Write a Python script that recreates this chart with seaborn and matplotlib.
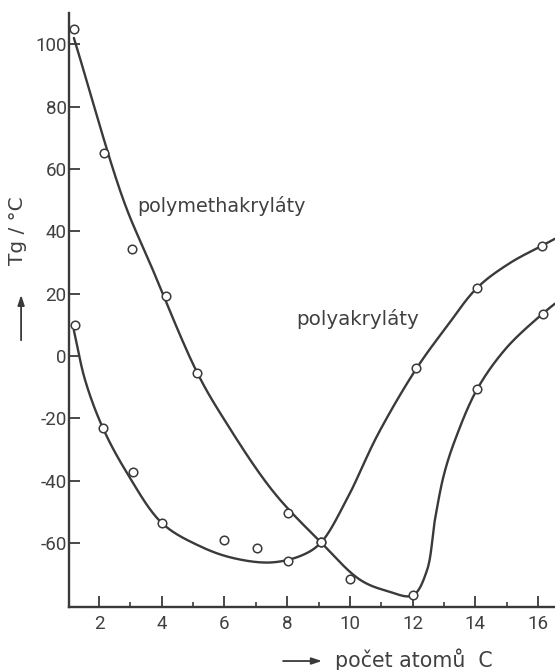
import numpy as np
import pandas as pd
import matplotlib
matplotlib.use("Agg")
import matplotlib.pyplot as plt
import seaborn as sns

# ---- data ----
# measured points (open circles)
pma_x = [1.2, 2.15, 3.05, 4.15, 5.12, 8.02, 9.08, 10.0, 12.02, 14.06, 16.15]
pma_y = [104.8, 65.1, 34.4, 19.4, -5.3, -50.3, -59.8, -71.4, -76.6, -10.6, 13.6]
pa_x = [1.22, 2.13, 3.08, 4.01, 5.99, 7.04, 8.03, 9.08, 12.12, 14.06, 16.13]
pa_y = [9.8, -23.2, -37.3, -53.6, -59.0, -61.6, -65.6, -59.8, -3.8, 21.9, 35.4]

# hand-drawn trend curves (knots)
pma_curve_x = [1.2, 2.78, 3.63, 5.13, 6.02, 7.55, 9.08, 10.33, 11.2, 12.0,
               12.45, 12.72, 13.0, 13.35, 14.06, 15.0, 16.15, 16.54]
pma_curve_y = [102.0, 50.0, 29.7, -5.3, -20.8, -43.4, -59.8, -71.8, -75.4, -76.8,
               -69.0, -52.0, -38.0, -27.0, -10.6, 2.7, 13.6, 16.8]
pa_curve_x = [1.2, 1.56, 2.13, 2.9, 4.01, 5.22, 6.28, 7.5, 8.5, 9.08,
              9.9, 10.9, 12.13, 13.1, 14.06, 15.1, 16.13, 16.54]
pa_curve_y = [8.2, -7.8, -23.2, -37.6, -53.6, -61.0, -64.8, -66.2, -63.8, -59.8,
              -46.0, -25.0, -3.9, 9.6, 21.9, 29.8, 35.4, 37.6]

x_major_ticks = [2, 4, 6, 8, 10, 12, 14, 16]
x_minor_ticks = [3, 5, 7, 9, 11, 13, 15]
y_ticks = [-60, -40, -20, 0, 20, 40, 60, 80, 100]

label_pma = "polymethakryláty"
label_pa = "polyakryláty"
xlabel = "počet atomů  C"
ylabel = "Tg / °C"


def smooth(xs, ys, sx=31.36, sy=3.125, n=30):
    """Centripetal Catmull-Rom through the traced knots (drawing only)."""
    P = np.column_stack([np.asarray(xs) * sx, np.asarray(ys) * sy])
    P = np.vstack([2 * P[0] - P[1], P, 2 * P[-1] - P[-2]])
    out = []
    for i in range(1, len(P) - 2):
        p0, p1, p2, p3 = P[i - 1], P[i], P[i + 1], P[i + 2]
        t0 = 0.0
        t1 = t0 + np.linalg.norm(p1 - p0) ** 0.5
        t2 = t1 + np.linalg.norm(p2 - p1) ** 0.5
        t3 = t2 + np.linalg.norm(p3 - p2) ** 0.5
        t = np.linspace(t1, t2, n)[:, None]
        A1 = (t1 - t) / (t1 - t0) * p0 + (t - t0) / (t1 - t0) * p1
        A2 = (t2 - t) / (t2 - t1) * p1 + (t - t1) / (t2 - t1) * p2
        A3 = (t3 - t) / (t3 - t2) * p2 + (t - t2) / (t3 - t2) * p3
        B1 = (t2 - t) / (t2 - t0) * A1 + (t - t0) / (t2 - t0) * A2
        B2 = (t3 - t) / (t3 - t1) * A2 + (t - t1) / (t3 - t1) * A3
        C = (t2 - t) / (t2 - t1) * B1 + (t - t1) / (t2 - t1) * B2
        out.append(C if i == len(P) - 3 else C[:-1])
    C = np.vstack(out)
    return C[:, 0] / sx, C[:, 1] / sy


sns.set_theme(style="ticks")
plt.rcParams["font.family"] = ["Roboto", "DejaVu Sans"]

ink = "#3a3a3a"
txt = "#404040"
fig = plt.figure(figsize=(5.55, 6.7), dpi=100)
ax = fig.add_axes([0.1252, 0.094, 0.8748, 0.8866])

cx, cy = smooth(pma_curve_x, pma_curve_y)
sns.lineplot(x=cx, y=cy, sort=False, estimator=None, ax=ax, color=ink, lw=1.7, zorder=2)
cx, cy = smooth(pa_curve_x, pa_curve_y)
sns.lineplot(x=cx, y=cy, sort=False, estimator=None, ax=ax, color=ink, lw=1.7, zorder=2)

pts = pd.DataFrame({"x": pma_x + pa_x, "y": pma_y + pa_y})
sns.scatterplot(data=pts, x="x", y="y", ax=ax, marker="o", s=38, facecolor="white",
                edgecolor=ink, linewidth=1.1, zorder=3)

ax.set_xlim(1.06, 16.54)
ax.set_ylim(-80.5, 110)
ax.set_xticks(x_major_ticks)
ax.set_xticks(x_minor_ticks, minor=True)
ax.set_yticks(y_ticks)
ax.set_xticklabels([str(v) for v in x_major_ticks])
ax.set_yticklabels([str(v) for v in y_ticks])
ax.tick_params(axis="both", which="major", direction="in", length=8, width=1.3,
               color=ink, labelcolor=txt, labelsize=13.5)
ax.tick_params(axis="x", which="major", pad=6)
ax.tick_params(axis="y", which="major", pad=2)
ax.tick_params(axis="x", which="minor", direction="in", length=3.5, width=1.2, color=ink)
for s in ["top", "right"]:
    ax.spines[s].set_visible(False)
for s in ["left", "bottom"]:
    ax.spines[s].set_color(ink)
    ax.spines[s].set_linewidth(1.7)
ax.set_xlabel("")
ax.set_ylabel("")

ax.text(3.21, 48.2, label_pma, fontsize=13.8, color=txt, va="center", ha="left",
        family=["DejaVu Sans"])
ax.text(8.29, 12.0, label_pa, fontsize=14.3, color=txt, va="center", ha="left",
        family=["DejaVu Sans"])

# axis titles with arrows, as in the original
fig.text(0.032, 0.655, ylabel, rotation=90, fontsize=14.5, color=txt,
         ha="center", va="center", family=["DejaVu Sans"])
fig.patches.append(matplotlib.patches.FancyArrowPatch(
    (0.038, 0.488), (0.038, 0.564), transform=fig.transFigure,
    arrowstyle="-|>,head_length=6,head_width=2", color=ink, lw=1.3))
fig.text(0.604, 0.016, xlabel, fontsize=14.8, color=txt, ha="left", va="center",
         family=["DejaVu Sans"])
fig.patches.append(matplotlib.patches.FancyArrowPatch(
    (0.505, 0.0134), (0.585, 0.0134), transform=fig.transFigure,
    arrowstyle="-|>,head_length=6,head_width=2", color=ink, lw=1.3))

fig.savefig("out.png", dpi=100)
